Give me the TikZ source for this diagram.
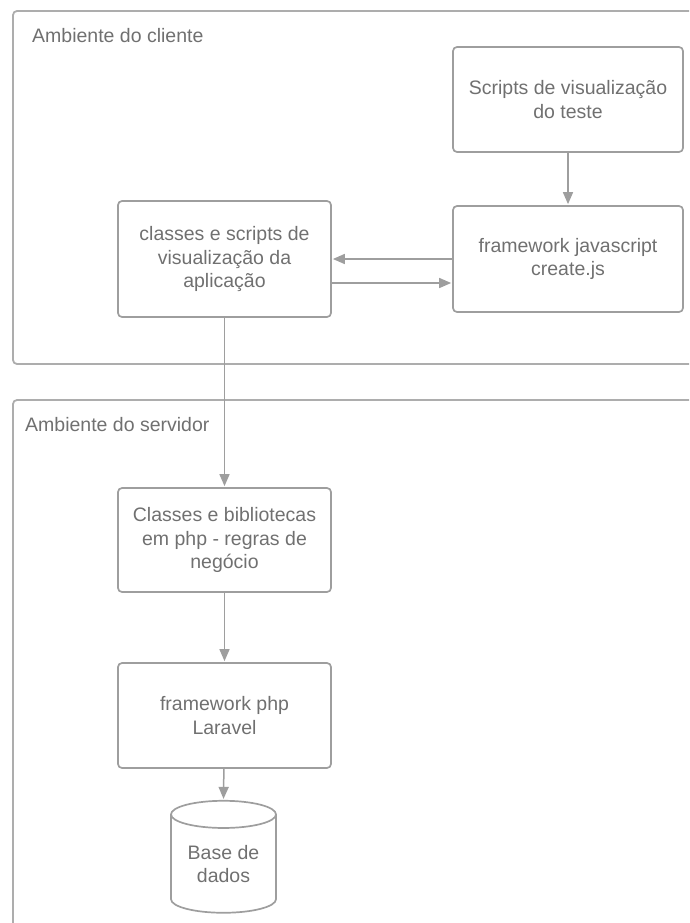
\documentclass[tikz,border=0pt]{standalone}
\usepackage{fontspec}
\setmainfont{Liberation Sans}
\usepackage{tikz}
\usetikzlibrary{arrows.meta}
\usetikzlibrary{shapes.geometric}

\definecolor{linegray}{HTML}{9E9E9E}
\definecolor{textgray}{HTML}{707070}

\tikzset{
    region/.style={draw=linegray!85, line width=1.8pt, rounded corners=4pt},
    box/.style={draw=linegray, line width=1.7pt, rounded corners=4pt, align=center,
        text=textgray, font=\fontsize{19.5}{23.5}\selectfont, inner sep=0pt},
    arr/.style={draw=linegray, line width=1.5pt,
        -{Triangle[length=12pt,width=10pt]}, shorten >=1pt},
    lbl/.style={text=textgray, font=\fontsize{19.5}{23}\selectfont, anchor=west, inner sep=0pt}
}

\begin{document}
\begin{tikzpicture}[x=1pt,y=-1pt]
        \clip (0,0) rectangle (689,923);

        \draw[region] (13,11) rectangle (720,364);
        \draw[region] (13,400) rectangle (720,960);

        \node[lbl] (cliente) at (32,36) {Ambiente do cliente};
        \node[lbl] (servidor) at (25,425) {Ambiente do servidor};

        \node[box, minimum width=230pt, minimum height=105pt] (scripts) at (568,99.5) {Scripts de visualização\\do teste};
        \node[box, minimum width=230pt, minimum height=106pt] (js) at (568,259) {framework javascript\\create.js};
        \node[box, minimum width=213pt, minimum height=116pt] (app) at (224.5,259) {classes e scripts de\\visualização da\\aplicação};
        \node[box, minimum width=213pt, minimum height=104pt] (biblio) at (224.5,540) {Classes e bibliotecas\\em php - regras de\\negócio};
        \node[box, minimum width=213pt, minimum height=105pt] (laravel) at (224.5,715.5) {framework php\\Laravel};
        \node[box, cylinder, shape border rotate=90, aspect=0.38, rounded corners=0pt,
            minimum width=105pt, minimum height=112pt] (dados) at (223.5,864) {Base de\\dados};

        \draw[arr] (scripts) -- (js);
        \draw[arr] (js.west) -- (app.east);
        \draw[arr] ([yshift=-24pt]app.east) -- ([yshift=-24pt]js.west);
        \draw[arr] (app) -- (biblio);
        \draw[arr] (biblio) -- (laravel);
        \draw[arr] (laravel) -- (dados.top);
    \end{tikzpicture}
\end{document}
